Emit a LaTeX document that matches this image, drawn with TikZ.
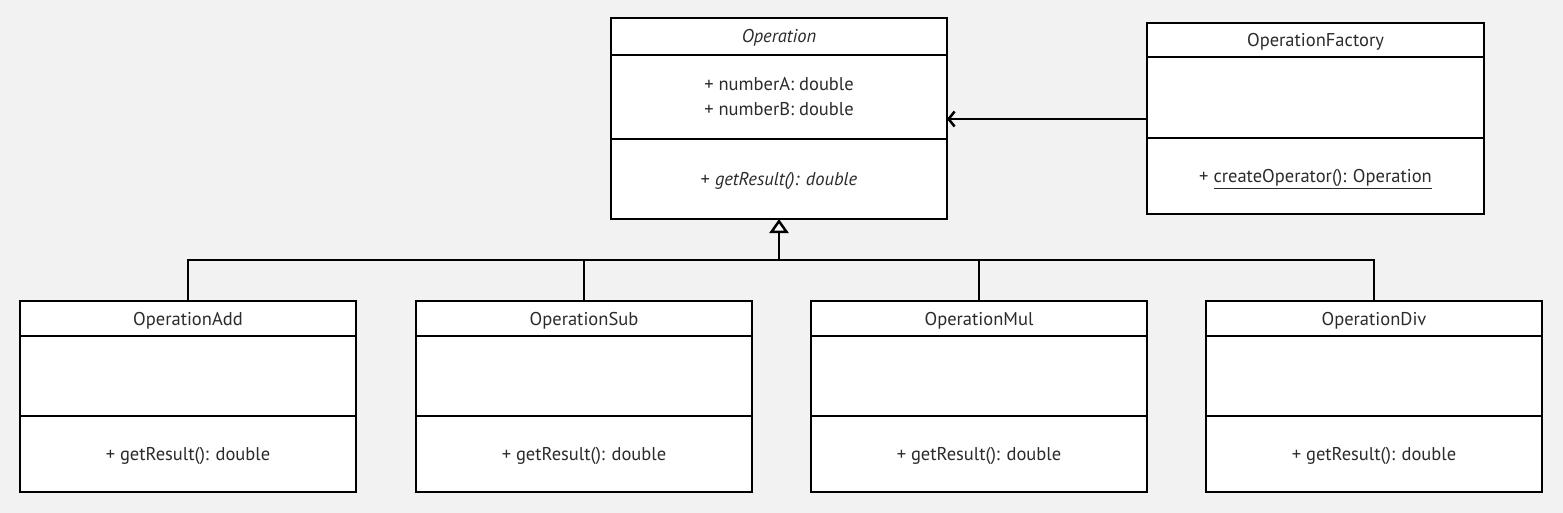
\documentclass[tikz,border=0pt]{standalone}
\usepackage{fontspec}
\setmainfont{PT Sans}
\usetikzlibrary{positioning,arrows.meta}
\definecolor{bg}{HTML}{F2F2F2}
\definecolor{ink}{HTML}{2B2B2B}
\begin{document}
\begin{tikzpicture}[x=1pt, y=-1pt, node distance=0pt,
        box/.style = {draw, fill=white, line width=2.5pt, minimum width=336pt, inner sep=0pt, outer sep=0pt, text=ink, font=\fontsize{18.5}{25}\selectfont, align=center},
        head/.style = {box, minimum height=35pt, text height=16pt, text depth=3pt},
        attr/.style = {box, minimum height=80pt},
        ops/.style = {box, minimum height=76pt, text height=16pt, text depth=3pt},
        link/.style = {line width=2.5pt},
        assoc/.style = {link, -{Straight Barb[length=6pt,width=15pt]}},
        inherit/.style = {link, -{Triangle[open,fill=white,length=14pt,width=19pt]}}]
        \useasboundingbox[fill=bg] (0,0) rectangle (1563,513);

        \node[head, minimum height=37pt] (op) at (779,36.5) {\textit{Operation}};
        \node[attr, minimum height=84pt, below=of op] (opAttr) {+ numberA: double\\+ numberB: double};
        \node[ops, minimum height=80pt, below=of opAttr] (opOps) {+ \textit{getResult(): double}};

        \node[head, minimum width=337pt, minimum height=34pt] (fac) at (1315.5,40) {OperationFactory};
        \node[attr, minimum width=337pt, minimum height=81pt, below=of fac] (facAttr) {};
        \node[ops, minimum width=337pt, below=of facAttr] (facOps) {+ \underline{createOperator(): Operation}};

        \foreach \n/\x in {Add/188, Sub/584, Mul/979, Div/1374}{
            \node[head] (\n) at (\x,318.5) {Operation\n};
            \node[attr, below=of \n] (\n-attr) {};
            \node[ops, below=of \n-attr] (\n-ops) {+ getResult(): double};
        }

        \coordinate (bus) at ([yshift=-41pt]opOps.south);
        \foreach \n in {Add, Sub, Mul, Div}{
            \draw[link] (\n.north) |- (bus);
        }
        \draw[inherit] (bus) -- (opOps.south);

        \coordinate (use) at ([yshift=-21.5pt]facAttr.west);
        \draw[assoc] (use) -- (use -| opAttr.east);
    \end{tikzpicture}
\end{document}
